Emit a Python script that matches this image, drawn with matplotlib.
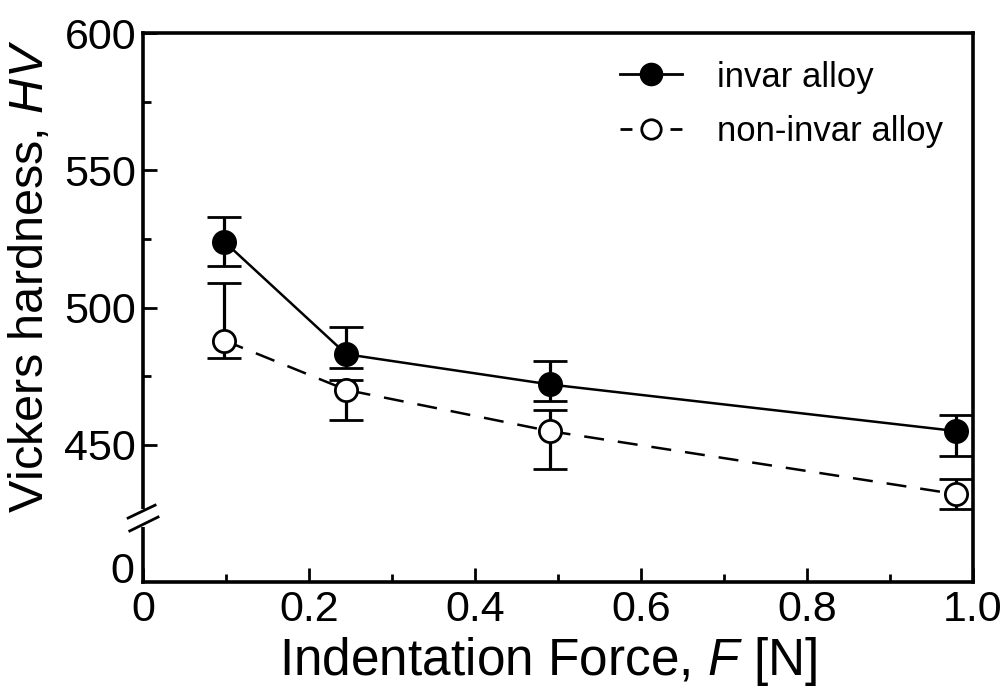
import matplotlib.pyplot as plt
from matplotlib.lines import Line2D

plt.rcParams['font.family'] = ['Liberation Sans', 'DejaVu Sans']
plt.rcParams['mathtext.fontset'] = 'custom'
plt.rcParams['mathtext.it'] = 'Liberation Sans:italic'
plt.rcParams['mathtext.rm'] = 'Liberation Sans'

# indentation force [N]
force = [0.098, 0.245, 0.49, 0.98]

# invar alloy
invar_hv = [524, 483, 472, 455]
invar_lo = [9, 5, 6, 9]
invar_hi = [9, 10, 8.5, 6]

# non-invar alloy
non_hv = [488, 470, 455, 432]
non_lo = [6.5, 11, 14, 5.5]
non_hi = [21, 3.5, 7.5, 5.5]

x_ticks = [0, 0.2, 0.4, 0.6, 0.8, 1.0]
x_labels = ['0', '0.2', '0.4', '0.6', '0.8', '1.0']
y_ticks = [450, 500, 550, 600]
y_zero = 403.6  # where the "0" sits below the axis break

fig = plt.figure(figsize=(10.01, 6.9), dpi=100)
ax = fig.add_axes([0.1429, 0.1565, 0.829, 0.7955])

common = dict(ecolor='black', elinewidth=2.3, capsize=12.5, capthick=2.3,
              color='black', markersize=16, markeredgewidth=2, linewidth=1.8)
ax.errorbar(force, invar_hv, yerr=[invar_lo, invar_hi], fmt='o-',
            markerfacecolor='black', markeredgecolor='black', zorder=3, **common)
ax.errorbar(force, non_hv, yerr=[non_lo, non_hi], fmt='o--', dashes=(8, 5.6),
            markerfacecolor='white', markeredgecolor='black', zorder=3, **common)

ax.set_xlim(0, 1.0)
ax.set_ylim(400, 600)
ax.set_xticks(x_ticks)
ax.set_xticklabels(x_labels)
ax.set_xticks([0.1, 0.3, 0.5, 0.7, 0.9], minor=True)
ax.set_yticks(y_ticks)
ax.set_yticks([475, 525, 575], minor=True)

ax.tick_params(which='both', direction='in', width=2, labelsize=31, colors='black')
ax.tick_params(which='major', length=10, pad=6)
ax.tick_params(which='minor', length=6)
ax.tick_params(axis='y', pad=5)

# "0" label below the break
ax.text(-0.011, y_zero, '0', transform=ax.get_yaxis_transform(),
        ha='right', va='center', fontsize=31)

for s in ax.spines.values():
    s.set_linewidth(2.6)

# axis break
ax.add_patch(plt.Rectangle((-0.006, 0.101), 0.012, 0.032, transform=ax.transAxes,
                           facecolor='white', edgecolor='none', clip_on=False, zorder=5))
ax.plot([-0.018, 0.0145], [0.1166, 0.140], transform=ax.transAxes, color='black',
        linewidth=2, clip_on=False, zorder=6)
ax.plot([-0.016, 0.0181], [0.093, 0.1184], transform=ax.transAxes, color='black',
        linewidth=2, clip_on=False, zorder=6)

ax.set_xlabel('Indentation Force, $F$ [N]', fontsize=37)
ax.xaxis.set_label_coords(0.488, -0.096)
ax.set_ylabel('Vickers hardness, $HV$', fontsize=35)
ax.yaxis.set_label_coords(-0.108, 0.557)

handles = [
    Line2D([], [], color='black', marker='o', markersize=16, linestyle='-',
           linewidth=2, markerfacecolor='black'),
    Line2D([], [], color='black', marker='o', markersize=14, linestyle='--',
           dashes=(4.3, 13.7), linewidth=2, markerfacecolor='white',
           markeredgewidth=2),
]
ax.legend(handles, ['invar alloy', 'non-invar alloy'], loc='upper left',
          bbox_to_anchor=(0.5747, 0.950), frameon=False, fontsize=25,
          handlelength=1.79, handletextpad=1.0, labelspacing=0.62,
          borderpad=0, borderaxespad=0)

fig.savefig('out.png', dpi=100)
